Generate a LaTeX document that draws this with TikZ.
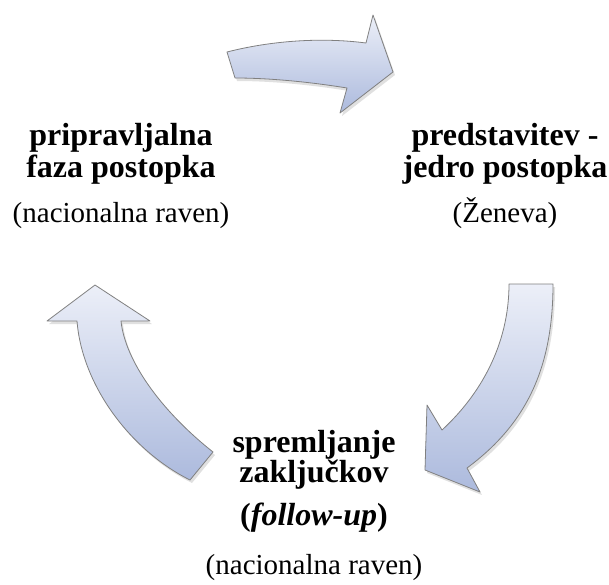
\documentclass[tikz,border=0pt]{standalone}
\usepackage{fontspec}
\setmainfont{Liberation Serif}
\begin{document}
\begin{tikzpicture}[x=1pt,y=-1pt,
  blockarrow/.style={draw=black!50, line width=0.8pt, line join=round, shading=axis, top color=arrowtop, bottom color=arrowbot},
  arrowshadow/.style={fill=black, opacity=0.12, draw=none},
  headtxt/.style={anchor=base, inner sep=0pt, font=\fontsize{32}{32}\selectfont\bfseries},
  subtxt/.style={anchor=base, inner sep=0pt, font=\fontsize{29}{29}\selectfont}]
\definecolor{arrowtop}{RGB}{236,239,248}
\definecolor{arrowbot}{RGB}{172,186,221}
\useasboundingbox (0,0) rectangle (609,584);
\fill[white] (0,0) rectangle (609,584);
% top arrow
\def\toparrow{(227,52) .. controls (270,41) and (320,37) .. (366,43) -- (373,15) -- (393,72) -- (340,113) -- (347,88) .. controls (310,82) and (270,78) .. (235,78) -- cycle}
\def\rightarrow{(509,284) -- (553,284) .. controls (553,370) and (525,425) .. (467,468) -- (480,492) -- (425,470) -- (427,405) -- (442,430) .. controls (480,395) and (509,345) .. cycle}
\def\leftarrow{(95,285) -- (150,321) -- (121,321) .. controls (125,360) and (160,410) .. (213,452) -- (190,480) .. controls (130,450) and (82,385) .. (77,321) -- (47,321) -- cycle}
\begin{scope}[shift={(2,3)}]
\fill[arrowshadow] \toparrow;
\fill[arrowshadow] \rightarrow;
\fill[arrowshadow] \leftarrow;
\end{scope}
\path[blockarrow] \toparrow;
\path[blockarrow] \rightarrow;
\path[blockarrow] \leftarrow;
% left text
\node[headtxt] (l1) at (121,145) {pripravljalna};
\node[headtxt] (l2) at (121,177) {faza postopka};
\node[subtxt] (l3) at (121,222) {(nacionalna raven)};
% right text
\node[headtxt] (r1) at (505,145) {predstavitev -};
\node[headtxt] (r2) at (505,177) {jedro postopka};
\node[subtxt] (r3) at (505,222) {(Ženeva)};
% bottom text
\node[headtxt] (b1) at (314,452) {spremljanje};
\node[headtxt] (b2) at (314,482) {zaključkov};
\node[headtxt] (b3) at (314,525) {(\textit{follow-up})};
\node[subtxt] (b4) at (314,574) {(nacionalna raven)};
\end{tikzpicture}
\end{document}
